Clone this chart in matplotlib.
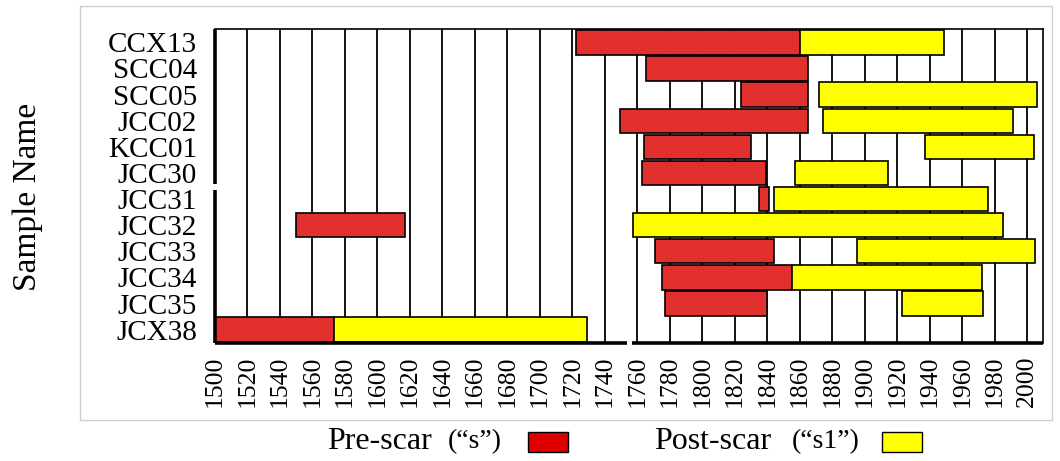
import numpy as np
import matplotlib.pyplot as plt
from matplotlib.patches import Rectangle

plt.rcParams['font.family'] = ['Liberation Serif', 'DejaVu Serif']

samples = ['CCX13', 'SCC04', 'SCC05', 'JCC02', 'KCC01', 'JCC30',
           'JCC31', 'JCC32', 'JCC33', 'JCC34', 'JCC35', 'JCX38']
pre_start = [1722, 1765, 1824, 1749, 1764, 1763, 1835, 1550, 1771, 1775, 1777, 1500]
pre_end = [1860, 1865, 1865, 1865, 1830, 1839, 1841, 1617, 1844, 1855, 1840, 1573]
post_start = [1860, np.nan, 1872, 1874, 1937, 1857, 1844, 1757, 1895, 1855, 1923, 1573]
post_end = [1949, np.nan, 2006, 1991, 2004, 1914, 1976, 1985, 2005, 1972, 1973, 1729]
years = list(range(1500, 2001, 20))

W, H = 1060, 461
red = '#E2302E'
yellow = '#FFFF00'


def fx(x):
    return x / W


def fy(y):
    return 1 - y / H


fig = plt.figure(figsize=(W / 100, H / 100), dpi=100)
ax = fig.add_axes([fx(215), fy(342.7), fx(1042.7 - 215), (342.7 - 29.3) / H])

ypos = np.arange(len(samples))
pre_start = np.array(pre_start, dtype=float)
pre_end = np.array(pre_end, dtype=float)
post_start = np.array(post_start, dtype=float)
post_end = np.array(post_end, dtype=float)

ax.barh(ypos, pre_end - pre_start, left=pre_start, height=0.93,
        color=red, edgecolor='black', linewidth=1.2, zorder=3)
ok = ~np.isnan(post_start)
ax.barh(ypos[ok], (post_end - post_start)[ok], left=post_start[ok], height=0.93,
        color=yellow, edgecolor='black', linewidth=1.2, zorder=3)

# vertical grid lines
for yr in years[1:]:
    ax.axvline(yr, color='black', linewidth=1.3, zorder=1)

ax.set_xlim(1500, 2009.5)
ax.set_ylim(len(samples) - 0.5, -0.5)
ax.set_yticks(ypos)
ax.set_yticklabels(samples, fontsize=21)
ax.set_xticks(years)
ax.set_xticklabels([str(y) for y in years], rotation=90, fontsize=18.5)
ax.tick_params(axis='both', length=0)
ax.tick_params(axis='y', pad=13)
ax.tick_params(axis='x', pad=9)

# spines: left and bottom drawn by hand with their small gaps
ax.spines['left'].set_visible(False)
ax.spines['bottom'].set_visible(False)
ax.spines['top'].set_linewidth(1.2)
ax.spines['right'].set_linewidth(1.2)
gap_y = (187 - 29.3) / (342.7 - 29.3)
ax.plot([0, 0], [1, 1 - gap_y + 0.008], transform=ax.transAxes, color='black',
        lw=2.6, clip_on=False, zorder=5, solid_capstyle='butt')
ax.plot([0, 0], [1 - gap_y - 0.008, 0], transform=ax.transAxes, color='black',
        lw=2.6, clip_on=False, zorder=5, solid_capstyle='butt')
ax.plot([1500, 1753.5], [len(samples) - 0.5] * 2, color='black', lw=2.6,
        clip_on=False, zorder=5, solid_capstyle='butt')
ax.plot([1756.8, 2009.5], [len(samples) - 0.5] * 2, color='black', lw=2.6,
        clip_on=False, zorder=5, solid_capstyle='butt')

fig.text(fx(28), fy(197), 'Sample Name', rotation=90, fontsize=24,
         ha='center', va='center')

# legend below the chart
fig.text(fx(327), fy(441), 'Pre-scar', fontsize=23, ha='left', va='center')
fig.text(fx(475), fy(442), '(\u201cs\u201d)', fontsize=20, ha='center', va='center')
fig.patches.append(Rectangle((fx(528), fy(452)), fx(40), 20 / H, transform=fig.transFigure,
                             facecolor='#DD0000', edgecolor='black', lw=1))
fig.text(fx(654), fy(441), 'Post-scar', fontsize=23, ha='left', va='center')
fig.text(fx(826), fy(442), '(\u201cs1\u201d)', fontsize=20, ha='center', va='center')
fig.patches.append(Rectangle((fx(882), fy(452)), fx(40), 20 / H, transform=fig.transFigure,
                             facecolor=yellow, edgecolor='black', lw=1))

# light frame around the plot area
fig.patches.append(Rectangle((fx(80), fy(420)), fx(1052 - 80), (420 - 6) / H,
                             transform=fig.transFigure, facecolor='none',
                             edgecolor='#cfcfcf', lw=1))

fig.savefig('out.png', dpi=100)
